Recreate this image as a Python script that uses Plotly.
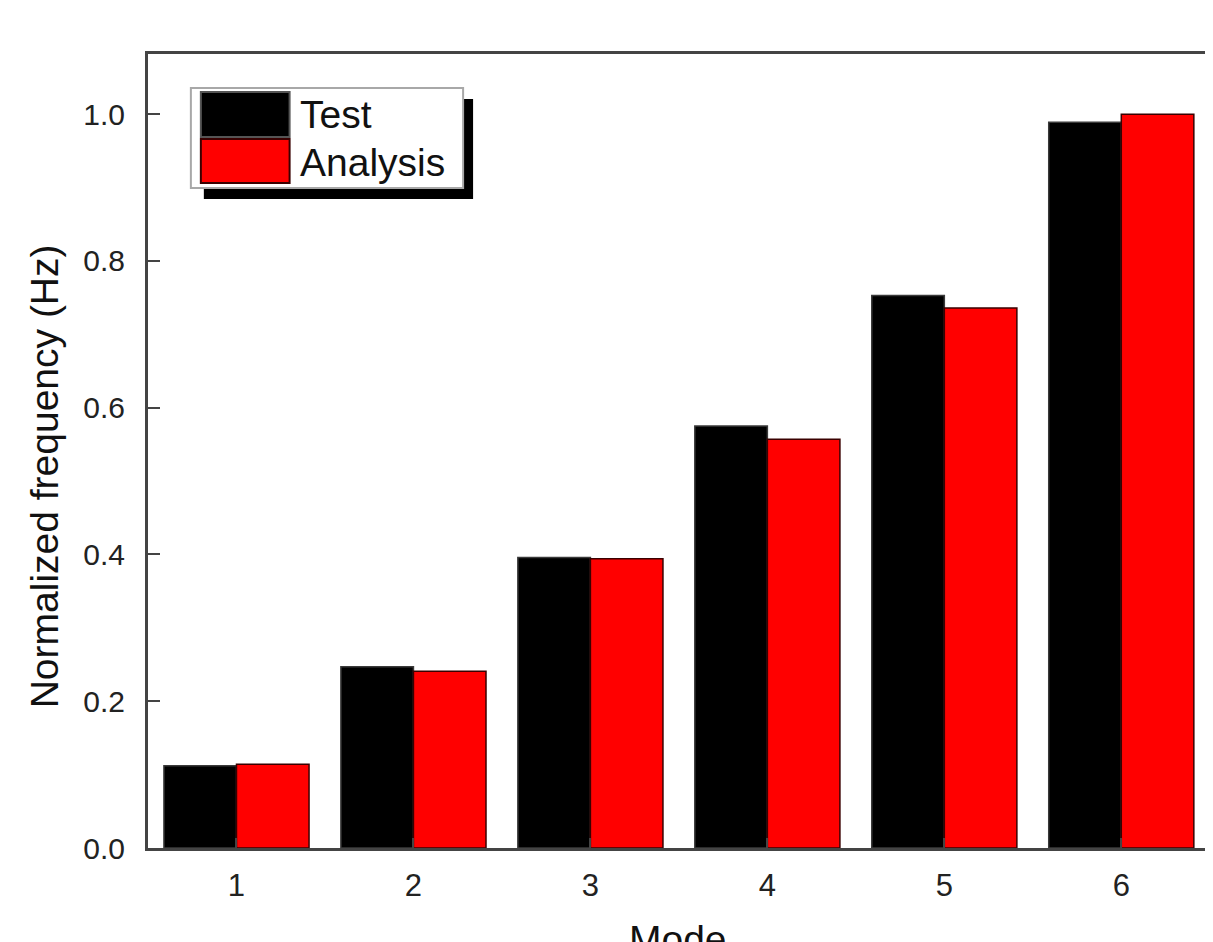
import plotly.graph_objects as go

modes = [1, 2, 3, 4, 5, 6]
test_vals = [0.112, 0.247, 0.396, 0.575, 0.753, 0.989]
analysis_vals = [0.114, 0.241, 0.394, 0.557, 0.736, 1.000]
series_names = ["Test", "Analysis"]
y_ticks = [0.0, 0.2, 0.4, 0.6, 0.8, 1.0]

OFF = 8  # page body margin
W, H = 1213 - OFF, 942 - OFF
# screen pixel positions of the plot area in the reference
L, R, T, B = 148, 1211, 54, 848
FONT = "Liberation Sans, Arial, sans-serif"


def px(x):
    return (x - L) / (R - L)


def py(y):
    return (B - y) / (B - T)


fig = go.Figure()
fig.add_trace(go.Bar(x=modes, y=test_vals, name=series_names[0],
                     marker=dict(color="#000000", line=dict(color="#3a3a3a", width=1.5))))
fig.add_trace(go.Bar(x=modes, y=analysis_vals, name=series_names[1],
                     marker=dict(color="#ff0000", line=dict(color="#3a0000", width=1.5))))

shapes = []
# legend shadow
shapes.append(dict(type="rect", xref="paper", yref="paper", x0=px(204), x1=px(474), y0=py(199), y1=py(99),
                   fillcolor="#000000", line=dict(width=0), layer="above"))
# legend box
shapes.append(dict(type="rect", xref="paper", yref="paper", x0=px(191), x1=px(464), y0=py(188), y1=py(88),
                   fillcolor="#ffffff", line=dict(color="#a8a8a8", width=2), layer="above"))
# swatches
shapes.append(dict(type="rect", xref="paper", yref="paper", x0=px(201), x1=px(290), y0=py(137), y1=py(92),
                   fillcolor="#000000", line=dict(color="#555555", width=2), layer="above"))
shapes.append(dict(type="rect", xref="paper", yref="paper", x0=px(201), x1=px(290), y0=py(183), y1=py(139),
                   fillcolor="#ff0000", line=dict(color="#3a0000", width=2), layer="above"))

annotations = [
    dict(text=series_names[0], xref="paper", yref="paper", x=px(298), y=py(114), xanchor="left", yanchor="middle",
         showarrow=False, font=dict(family=FONT, size=39, color="#111111")),
    dict(text=series_names[1], xref="paper", yref="paper", x=px(298), y=py(162), xanchor="left", yanchor="middle",
         showarrow=False, font=dict(family=FONT, size=39, color="#111111")),
    dict(text="Normalized frequency (Hz)", xref="paper", yref="paper", x=px(44), y=py(476), textangle=-90,
         xanchor="center", yanchor="middle", showarrow=False, font=dict(family=FONT, size=39, color="#111111")),
    dict(text="Mode", xref="paper", yref="paper", x=px(679), y=py(916), xanchor="center", yanchor="top",
         showarrow=False, font=dict(family=FONT, size=39, color="#111111")),
]

fig.update_layout(
    width=W, height=H,
    margin=dict(l=L - OFF, r=W - (R - OFF), t=T - OFF, b=H - (B - OFF), pad=0),
    paper_bgcolor="white", plot_bgcolor="white",
    barmode="group", bargap=0.18, bargroupgap=0,
    showlegend=False,
    shapes=shapes, annotations=annotations,
    font=dict(family=FONT, color="#222222"),
)
fig.update_xaxes(range=[0.5, 6.49], tickvals=modes, ticktext=[str(m) for m in modes],
                 showline=True, linecolor="#444444", linewidth=3, mirror=True,
                 ticks="inside", ticklen=10, tickwidth=2, tickcolor="#444444",
                 showgrid=False, zeroline=False, tickfont=dict(family=FONT, size=31, color="#222222"),
                 ticklabelstandoff=8)
fig.update_yaxes(range=[0, 1.082], tickvals=y_ticks, tickformat=".1f",
                 showline=True, linecolor="#444444", linewidth=3, mirror=True,
                 ticks="inside", ticklen=12, tickwidth=2, tickcolor="#444444",
                 showgrid=False, zeroline=False, tickfont=dict(family=FONT, size=30, color="#222222"),
                 ticklabelstandoff=14)

fig.write_html("out.html")
